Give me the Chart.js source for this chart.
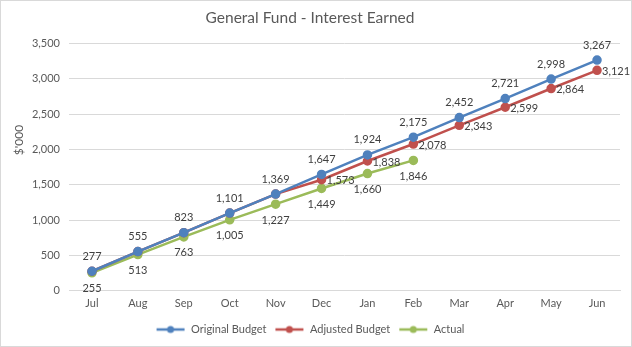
<!DOCTYPE html>
<html><head><meta charset="utf-8">
<script src="https://cdn.jsdelivr.net/npm/chart.js@4"></script>
<style>html,body{margin:0;padding:0;background:#fff}#w{width:632px;height:347px;position:relative}canvas{display:block}</style>
</head><body><div id="w"><canvas id="c" width="632" height="347"></canvas></div>
<script>
const months = ['Jul','Aug','Sep','Oct','Nov','Dec','Jan','Feb','Mar','Apr','May','Jun'];
const originalBudget = [277,555,823,1101,1369,1647,1924,2175,2452,2721,2998,3267];
const adjustedBudget = [277,555,823,1101,1369,1573,1838,2078,2343,2599,2864,3121];
const actual = [255,513,763,1005,1227,1449,1660,1846];
const yTicks = [0,500,1000,1500,2000,2500,3000,3500];
const yAxisTitle = "$'000";

const FONT = 'Lato, "Open Sans", sans-serif';
const BLUE = '#4F81BD', RED = '#C0504D', GREEN = '#9BBB59';
const TXT = '#595959';

function legendIcon(color){
  const c = document.createElement('canvas'); c.width = 30; c.height = 10;
  const x = c.getContext('2d');
  x.strokeStyle = color; x.lineWidth = 2.5; x.beginPath(); x.moveTo(1,5); x.lineTo(29,5); x.stroke();
  x.fillStyle = color; x.beginPath(); x.arc(15,5,3.5,0,Math.PI*2); x.fill();
  return c;
}

const fmt = v => v.toLocaleString('en-US');

const labelsPlugin = {
  id: 'dl',
  afterDatasetsDraw(chart){
    const ctx = chart.ctx; ctx.save();
    ctx.font = '11px ' + FONT; ctx.fillStyle = '#404040'; ctx.textBaseline = 'middle';
    const o = chart.getDatasetMeta(0), a = chart.getDatasetMeta(1), g = chart.getDatasetMeta(2);
    o.data.forEach((p,i)=>{ ctx.textAlign='center'; ctx.fillText(fmt(originalBudget[i]), p.x, p.y-15); });
    a.data.forEach((p,i)=>{ if(i<5) return; ctx.textAlign='left'; ctx.fillText(fmt(adjustedBudget[i]), p.x+5, p.y+1); });
    g.data.forEach((p,i)=>{ ctx.textAlign='center'; ctx.fillText(fmt(actual[i]), p.x, p.y+16); });
    // y axis title
    ctx.fillStyle = TXT; ctx.font = '12px ' + FONT; ctx.textAlign = 'center';
    ctx.translate(19, 140); ctx.rotate(-Math.PI/2); ctx.fillText(yAxisTitle, 0, 0);
    ctx.restore();
  }
};
const borderPlugin = {
  id: 'bd',
  beforeDraw(chart){ const ctx = chart.ctx; ctx.save(); ctx.fillStyle='#fff'; ctx.fillRect(0,0,chart.width,chart.height);
    ctx.strokeStyle='#d9d9d9'; ctx.lineWidth=1; ctx.strokeRect(0.5,0.5,chart.width-1,chart.height-1); ctx.restore(); }
};

new Chart(document.getElementById('c'), {
  type: 'line',
  data: {
    labels: months,
    datasets: [
      {label:'Original Budget', data: originalBudget, borderColor: BLUE, backgroundColor: BLUE},
      {label:'Adjusted Budget', data: adjustedBudget, borderColor: RED, backgroundColor: RED},
      {label:'Actual', data: actual, borderColor: GREEN, backgroundColor: GREEN}
    ].map(d => Object.assign(d, {borderWidth: 2.5, pointRadius: 3.5, pointHoverRadius: 3.5, tension: 0, pointStyle: 'circle'}))
  },
  options: {
    responsive: false, animation: false, devicePixelRatio: 1,
    layout: {padding: {left: 0, right: 12, top: 0, bottom: 2}},
    plugins: {
      title: {display: true, text: 'General Fund - Interest Earned', color: TXT, font: {family: FONT, size: 15.5, weight: 'normal'}, padding: {top: 9, bottom: 16}},
      legend: {position: 'bottom', labels: {usePointStyle: true, pointStyleWidth: 30, color: TXT, font: {family: FONT, size: 11}, padding: 8,
        generateLabels(chart){ return chart.data.datasets.map((d,i)=>({text: d.label, pointStyle: legendIcon(d.borderColor), fillStyle: d.borderColor, strokeStyle: d.borderColor, lineWidth: 0, datasetIndex: i, fontColor: TXT})); }}},
      tooltip: {enabled: false}
    },
    scales: {
      x: {offset: true, grid: {display: false, drawTicks: false}, border: {display: true, color: '#d9d9d9'}, ticks: {color: TXT, font: {family: FONT, size: 11}, padding: 6, maxRotation: 0, autoSkip: false}},
      y: {min: 0, max: 3500, afterBuildTicks(ax){ ax.ticks = yTicks.map(v=>({value:v})); },
        afterFit(ax){ ax.width = 69; },
        grid: {color: '#d9d9d9', drawTicks: false}, border: {display: false},
        ticks: {color: TXT, font: {family: FONT, size: 11}, padding: 9, callback: v => fmt(v)}}
    }
  },
  plugins: [borderPlugin, labelsPlugin]
});
</script>
</body></html>
